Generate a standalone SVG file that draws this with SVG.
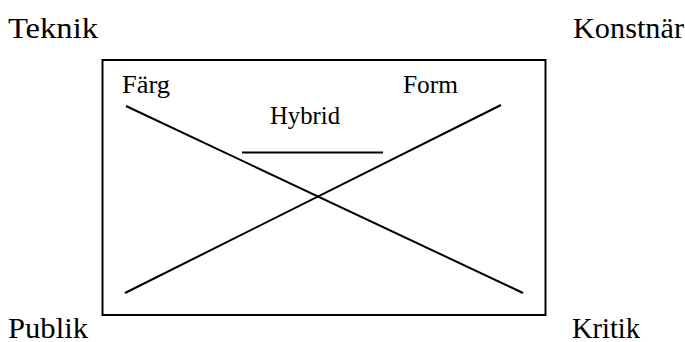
<svg xmlns="http://www.w3.org/2000/svg" width="685" height="342" viewBox="0 0 685 342">
  <style>
    .outer { font-family: "Liberation Serif", "Times New Roman", serif; font-size: 30px; fill: #000; }
    .inner { font-family: "Liberation Serif", "Times New Roman", serif; font-size: 25px; fill: #000; }
    .ln { stroke: #000; stroke-width: 2; fill: none; }
  </style>
  <rect width="685" height="342" fill="#fff"/>
  <g id="frame">
    <rect class="ln" x="102.5" y="60" width="443" height="255"/>
  </g>
  <g id="teknik"><text class="outer" x="8" y="38" textLength="90" lengthAdjust="spacingAndGlyphs">Teknik</text></g>
  <g id="konstnar"><text class="outer" x="573" y="38" textLength="111" lengthAdjust="spacingAndGlyphs">Konstnär</text></g>
  <g id="publik"><text class="outer" x="8" y="338" textLength="80" lengthAdjust="spacingAndGlyphs">Publik</text></g>
  <g id="kritik"><text class="outer" x="572" y="338" textLength="68" lengthAdjust="spacingAndGlyphs">Kritik</text></g>
  <g id="farg"><text class="inner" x="122" y="93" textLength="48" lengthAdjust="spacingAndGlyphs">Färg</text></g>
  <g id="form"><text class="inner" x="403" y="93" textLength="55" lengthAdjust="spacingAndGlyphs">Form</text></g>
  <g id="hybrid"><text class="inner" x="270" y="124" textLength="70" lengthAdjust="spacingAndGlyphs">Hybrid</text></g>
  <g id="connectors">
    <line class="ln" x1="126" y1="106" x2="523" y2="293"/>
    <line class="ln" x1="125" y1="293" x2="501" y2="105"/>
    <line class="ln" x1="242" y1="152.5" x2="383" y2="152.5"/>
  </g>
</svg>
